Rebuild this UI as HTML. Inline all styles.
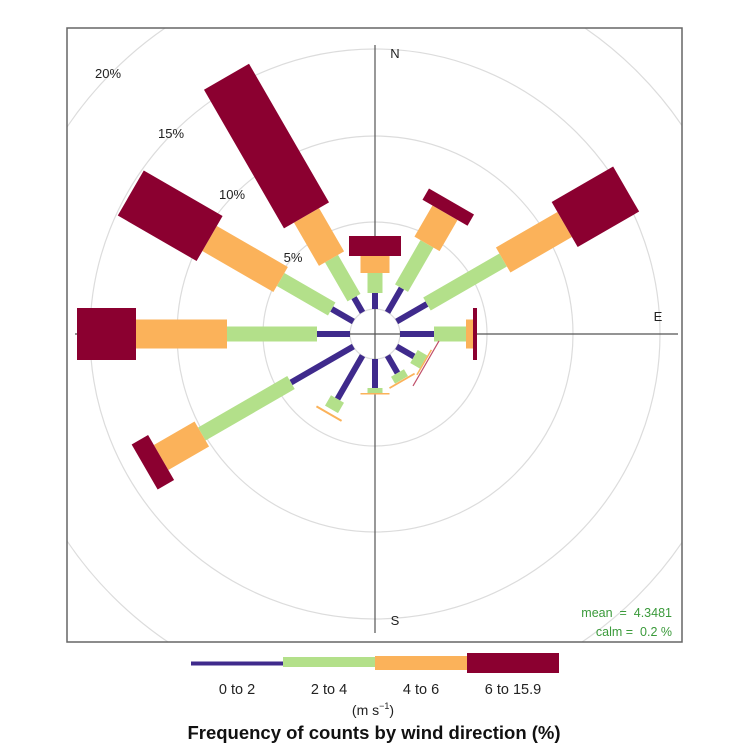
<!DOCTYPE html>
<html><head><meta charset="utf-8"><style>body{margin:0;background:#fff}svg{display:block}text{font-family:"Liberation Sans",Arial,sans-serif}</style></head>
<body>
<svg width="750" height="750" viewBox="0 0 750 750" xmlns="http://www.w3.org/2000/svg">
<defs><clipPath id="c"><rect x="67" y="28" width="615" height="614"/></clipPath></defs>
<rect width="750" height="750" fill="#fff"/>
<g clip-path="url(#c)" fill="none" stroke="#dcdcdc" stroke-width="1.2">
<circle cx="375" cy="334" r="25"/>
<circle cx="375" cy="334" r="112"/>
<circle cx="375" cy="334" r="198"/>
<circle cx="375" cy="334" r="285"/>
<circle cx="375" cy="334" r="371"/>
</g>
<g stroke="#555" stroke-width="1.2">
<line x1="375" y1="45" x2="375" y2="633"/>
<line x1="75" y1="334" x2="678" y2="334"/>
</g>
<g font-size="13" fill="#222">
<text x="395" y="58" text-anchor="middle">N</text>
<text x="395" y="625" text-anchor="middle">S</text>
<text x="658" y="321" text-anchor="middle">E</text>
<text x="293" y="262" text-anchor="middle">5%</text>
<text x="232" y="199" text-anchor="middle">10%</text>
<text x="171" y="138" text-anchor="middle">15%</text>
<text x="108" y="78" text-anchor="middle">20%</text>
</g>
<g transform="translate(375,334)">
<g><rect x="-3" y="-41" width="6" height="16" fill="#3f2a8c"/><rect x="-7.5" y="-61" width="15" height="20" fill="#b3e08a"/><rect x="-14.5" y="-78" width="29" height="17" fill="#fbb25a"/><rect x="-26" y="-98" width="52" height="20" fill="#8b0030"/></g>
<g transform="rotate(30)"><rect x="-3" y="-53" width="6" height="28" fill="#3f2a8c"/><rect x="-7.5" y="-104" width="15" height="51" fill="#b3e08a"/><rect x="-14.5" y="-140" width="29" height="36" fill="#fbb25a"/><rect x="-26" y="-153" width="52" height="13" fill="#8b0030"/></g>
<g transform="rotate(60)"><rect x="-3" y="-60" width="6" height="35" fill="#3f2a8c"/><rect x="-7.5" y="-148" width="15" height="88" fill="#b3e08a"/><rect x="-14.5" y="-219" width="29" height="71" fill="#fbb25a"/><rect x="-26" y="-290" width="52" height="71" fill="#8b0030"/></g>
<g transform="rotate(90)"><rect x="-3" y="-59" width="6" height="34" fill="#3f2a8c"/><rect x="-7.5" y="-91" width="15" height="32" fill="#b3e08a"/><rect x="-14.5" y="-98" width="29" height="7" fill="#fbb25a"/><rect x="-26" y="-102" width="52" height="4" fill="#8b0030"/></g>
<g transform="rotate(120)"><rect x="-3" y="-45" width="6" height="20" fill="#3f2a8c"/><rect x="-7.5" y="-56" width="15" height="11" fill="#b3e08a"/><rect x="-14.5" y="-57.5" width="29" height="1.5" fill="#fbb25a"/><rect x="-26" y="-59.5" width="52" height="1.2" fill="#c0506a"/></g>
<g transform="rotate(150)"><rect x="-3" y="-45" width="6" height="20" fill="#3f2a8c"/><rect x="-7.5" y="-53" width="15" height="8" fill="#b3e08a"/><rect x="-14.5" y="-55" width="29" height="1.8" fill="#fbb25a"/></g>
<g transform="rotate(180)"><rect x="-3" y="-54" width="6" height="29" fill="#3f2a8c"/><rect x="-7.5" y="-59" width="15" height="5" fill="#b3e08a"/><rect x="-14.5" y="-60.5" width="29" height="1.5" fill="#fbb25a"/></g>
<g transform="rotate(210)"><rect x="-3" y="-75" width="6" height="50" fill="#3f2a8c"/><rect x="-7.5" y="-87" width="15" height="12" fill="#b3e08a"/><rect x="-14.5" y="-93" width="29" height="2" fill="#fbb25a"/></g>
<g transform="rotate(240)"><rect x="-3" y="-97" width="6" height="72" fill="#3f2a8c"/><rect x="-7.5" y="-200" width="15" height="103" fill="#b3e08a"/><rect x="-14.5" y="-247" width="29" height="47" fill="#fbb25a"/><rect x="-26" y="-266" width="52" height="19" fill="#8b0030"/></g>
<g transform="rotate(270)"><rect x="-3" y="-58" width="6" height="33" fill="#3f2a8c"/><rect x="-7.5" y="-148" width="15" height="90" fill="#b3e08a"/><rect x="-14.5" y="-239" width="29" height="91" fill="#fbb25a"/><rect x="-26" y="-298" width="52" height="59" fill="#8b0030"/></g>
<g transform="rotate(300)"><rect x="-3" y="-50" width="6" height="25" fill="#3f2a8c"/><rect x="-7.5" y="-109" width="15" height="59" fill="#b3e08a"/><rect x="-14.5" y="-191" width="29" height="82" fill="#fbb25a"/><rect x="-26" y="-282" width="52" height="91" fill="#8b0030"/></g>
<g transform="rotate(330)"><rect x="-3" y="-42" width="6" height="17" fill="#3f2a8c"/><rect x="-7.5" y="-87" width="15" height="45" fill="#b3e08a"/><rect x="-14.5" y="-137" width="29" height="50" fill="#fbb25a"/><rect x="-26" y="-297" width="52" height="160" fill="#8b0030"/></g>
</g>
<rect x="67" y="28" width="615" height="614" fill="none" stroke="#666" stroke-width="1.5"/>
<g font-size="12.5" fill="#3a9a3a" text-anchor="end">
<text x="672" y="617">mean &#160;=&#160; 4.3481</text>
<text x="672" y="636">calm =&#160; 0.2 %</text>
</g>
<rect x="191" y="661.5" width="92" height="4" fill="#3f2a8c"/>
<rect x="283" y="657" width="92" height="10" fill="#b3e08a"/>
<rect x="375" y="656" width="92" height="14" fill="#fbb25a"/>
<rect x="467" y="653" width="92" height="20" fill="#8b0030"/>
<g font-size="14.5" fill="#222" text-anchor="middle">
<text x="237" y="694">0 to 2</text>
<text x="329" y="694">2 to 4</text>
<text x="421" y="694">4 to 6</text>
<text x="513" y="694">6 to 15.9</text>
</g>
<text x="373" y="715" font-size="14" fill="#222" text-anchor="middle">(m s<tspan dy="-6" font-size="9">−1</tspan><tspan dy="6">)</tspan></text>
<text x="374" y="739" font-size="18.5" font-weight="bold" text-anchor="middle" fill="#111">Frequency of counts by wind direction (%)</text>
</svg>
</body></html>
